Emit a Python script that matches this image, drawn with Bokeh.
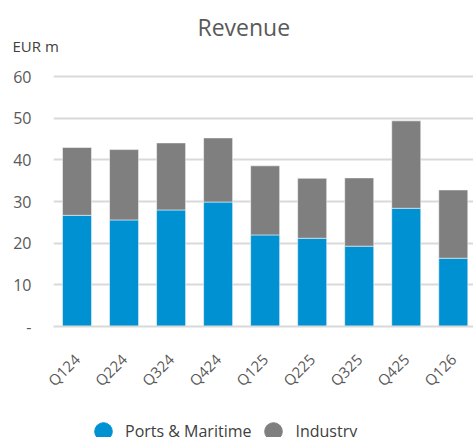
from math import pi
from bokeh.plotting import figure
from bokeh.layouts import column
from bokeh.models import (ColumnDataSource, Range1d, FixedTicker, Title, Legend, LegendItem)
from bokeh.embed import file_html
from bokeh.resources import INLINE

quarters = ["Q124", "Q224", "Q324", "Q424", "Q125", "Q225", "Q325", "Q425", "Q126"]
ports_maritime = [26.7, 25.6, 28.0, 29.9, 22.0, 21.2, 19.3, 28.4, 16.4]
industry = [16.3, 16.9, 16.1, 15.4, 16.6, 14.4, 16.4, 21.0, 16.4]
y_ticks = [0, 10, 20, 30, 40, 50, 60]
y_tick_labels = ["-", "10", "20", "30", "40", "50", "60"]
series = ["Ports & Maritime", "Industry"]
colors = ["#0091D3", "#7F7F7F"]
title_text = "Revenue"
unit_text = "EUR m"

FONT = "Open Sans"
TXT = "#595959"

xs = list(range(1, len(quarters) + 1))
src = ColumnDataSource(dict(x=xs, pm=ports_maritime, ind=industry))

p = figure(width=473, height=405, output_backend="svg", toolbar_location=None,
           x_range=Range1d(0.5, 9.43), y_range=Range1d(0, 61.5),
           min_border_left=53, min_border_right=0, min_border_top=70, min_border_bottom=79)
p.outline_line_color = None

p.vbar_stack(["pm", "ind"], x="x", width=0.617, source=src, color=colors,
             line_color="white", line_alpha=0.5, line_width=1)

p.yaxis.ticker = FixedTicker(ticks=y_ticks)
p.yaxis.major_label_overrides = {t: l for t, l in zip(y_ticks, y_tick_labels)}
p.yaxis.axis_line_color = None
p.yaxis.major_tick_line_color = None
p.yaxis.minor_tick_line_color = None
p.yaxis.major_tick_out = 0
p.yaxis.minor_tick_out = 0
p.yaxis.major_label_text_font = FONT
p.yaxis.major_label_text_font_size = "16px"
p.yaxis.major_label_text_color = TXT
p.yaxis.major_label_standoff = 22

p.xaxis.ticker = FixedTicker(ticks=xs)
p.xaxis.major_label_overrides = {x: q for x, q in zip(xs, quarters)}
p.xaxis.major_label_orientation = pi / 4
p.xaxis.axis_line_color = "#D9D9D9"
p.xaxis.axis_line_width = 2
p.xaxis.major_tick_line_color = None
p.xaxis.minor_tick_line_color = None
p.xaxis.major_tick_out = 0
p.xaxis.minor_tick_out = 0
p.xaxis.major_label_text_font = FONT
p.xaxis.major_label_text_font_size = "15px"
p.xaxis.major_label_text_color = TXT
p.xaxis.major_label_standoff = 30

p.xgrid.grid_line_color = None
p.ygrid.grid_line_color = "#D9D9D9"
p.ygrid.grid_line_width = 2
p.ygrid.ticker = FixedTicker(ticks=y_ticks)

# unit label (nearest to the frame) and title above it
p.add_layout(Title(text=unit_text, align="left", offset=-41, standoff=29,
                   text_font=FONT, text_font_size="15px", text_font_style="normal",
                   text_color="#404040"), "above")
p.title.text = title_text
p.title.align = "left"
p.title.offset = 144
p.title.standoff = -47
p.title.text_font = FONT
p.title.text_font_size = "23px"
p.title.text_font_style = "normal"
p.title.text_color = TXT

# ---- legend strip below the chart ----
leg = figure(width=473, height=32, output_backend="svg", toolbar_location=None,
             x_range=Range1d(0, 1), y_range=Range1d(0, 1),
             x_axis_location=None, y_axis_location=None,
             min_border_left=53, min_border_right=0, min_border_top=0, min_border_bottom=0)
leg.outline_line_color = None
leg.xgrid.visible = False
leg.ygrid.visible = False
proxy = ColumnDataSource(dict(x=[0], y=[0]))
r1 = leg.scatter(x="x", y="y", source=proxy, marker="circle", size=20,
                 color=colors[0], visible=False)
r2 = leg.scatter(x="x", y="y", source=proxy, marker="circle", size=20,
                 color=colors[1], visible=False)
legend = Legend(items=[LegendItem(label=series[0], renderers=[r1]),
                       LegendItem(label=series[1], renderers=[r2])],
                orientation="horizontal", location=(28, -19),
                glyph_width=44, glyph_height=50, label_standoff=0, spacing=-7,
                padding=0, margin=0, border_line_color=None, background_fill_alpha=0,
                label_text_font=FONT, label_text_font_size="16px", label_text_color="#404040")
leg.add_layout(legend, "center")

layout = column(p, leg, spacing=0)
open("out.html", "w").write(file_html(layout, INLINE))
